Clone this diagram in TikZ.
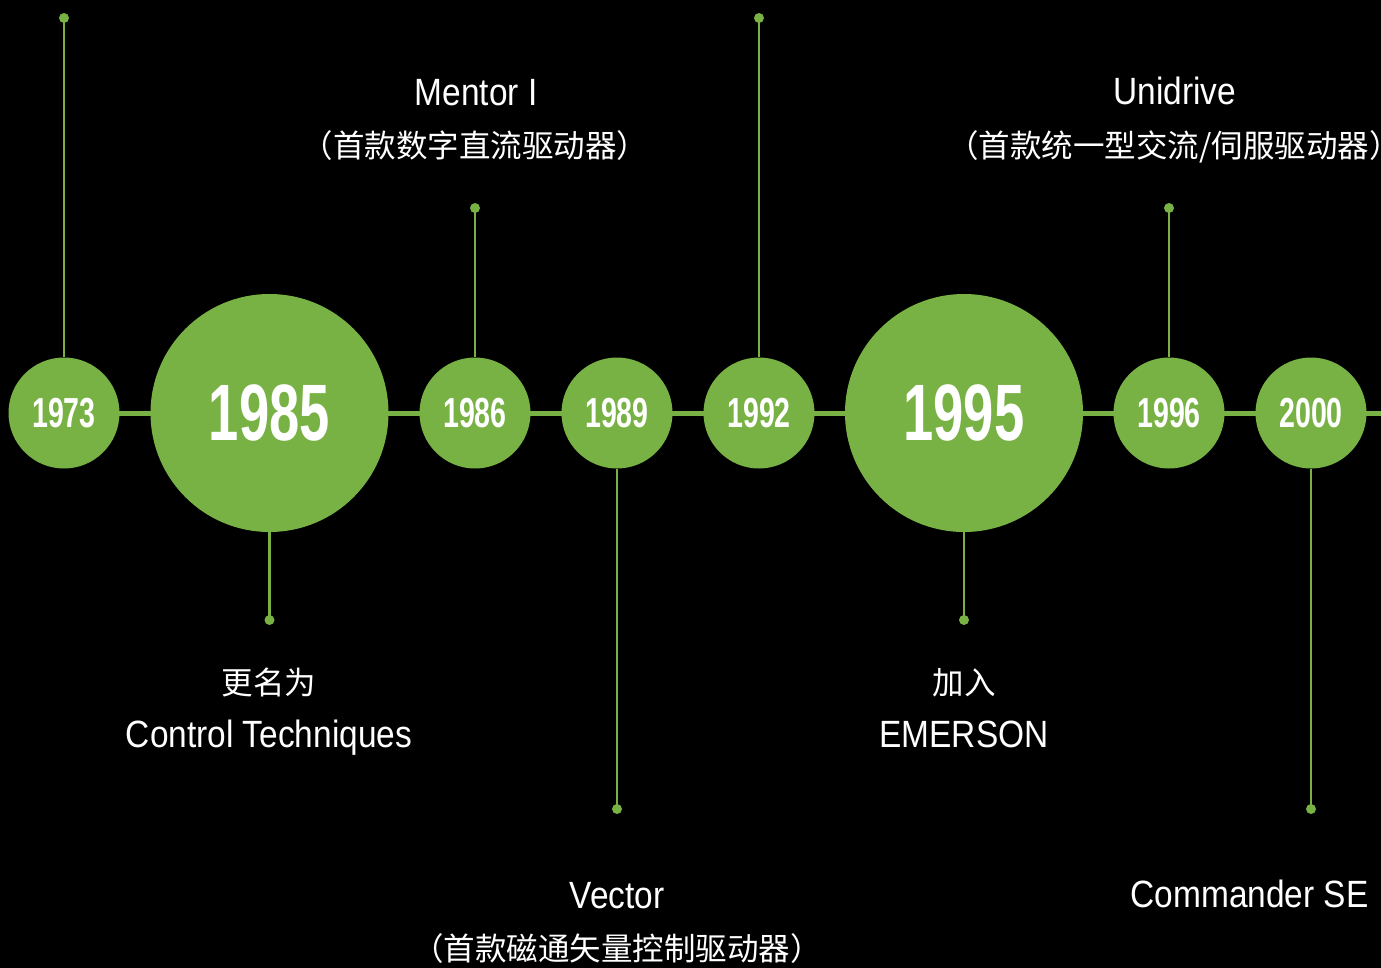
\documentclass[tikz,border=0pt]{standalone}
\usepackage{fontspec}
\setmainfont{Liberation Sans}[FakeStretch=0.88]
\newfontfamily\yearfont{Liberation Sans}[FakeStretch=0.68,BoldFont={Liberation Sans Bold}]
\newfontfamily\cjk{Noto Sans CJK SC}
\usetikzlibrary{backgrounds}
\definecolor{tlgreen}{RGB}{120,178,68}
\tikzset{
  yr/.style={circle, fill=tlgreen, inner sep=0pt, minimum size=111pt, text=white,
    font=\yearfont\bfseries\fontsize{42}{42}\selectfont},
  bigyr/.style={circle, fill=tlgreen, inner sep=0pt, minimum size=238pt, text=white,
    font=\yearfont\bfseries\fontsize{80}{80}\selectfont},
  enddot/.style={circle, fill=tlgreen, inner sep=0pt, minimum size=10pt},
  stem/.style={draw=tlgreen, line width=2.5pt},
  axis/.style={draw=tlgreen, line width=5pt},
  lbl/.style={text=white, inner sep=0pt, anchor=base, font=\fontsize{38}{44}\selectfont},
  zh/.style={text=white, inner sep=0pt, anchor=base, font=\cjk\fontsize{31.5}{36}\selectfont},
}
\begin{document}
\begin{tikzpicture}[x=1pt, y=-1pt]
\useasboundingbox (0,0) rectangle (1381,967);
\clip (0,0) rectangle (1381,967);
% year circles
\node[yr] (c1973) at (64,413) {1973};
\node[bigyr] (c1985) at (269.5,413) {1985};
\node[yr] (c1986) at (475,413) {1986};
\node[yr] (c1989) at (617,413) {1989};
\node[yr] (c1992) at (759,413) {1992};
\node[bigyr] (c1995) at (964,413) {1995};
\node[yr] (c1996) at (1169,413) {1996};
\node[yr] (c2000) at (1311,413) {2000};
% end dots
\node[enddot] (d1973) at (64,18) {};
\node[enddot] (d1985) at (269.5,620) {};
\node[enddot] (d1986) at (475,208) {};
\node[enddot] (d1989) at (617,809) {};
\node[enddot] (d1992) at (759,18) {};
\node[enddot] (d1995) at (964,620) {};
\node[enddot] (d1996) at (1169,208) {};
\node[enddot] (d2000) at (1311,809) {};
\coordinate (axisend) at (1390,413);
% labels
\node[lbl] (t1986) at (476,105) {Mentor I};
\node[zh] (z1986) at (475,157) {（首款数字直流驱动器）};
\node[lbl] (t1996) at (1175,104) {Unidrive};
\node[zh] (z1996) at (1174,157) {（首款统一型交流/伺服驱动器）};
\node[zh] (z1985) at (269,694) {更名为};
\node[lbl] (t1985) at (269,747) {Control Techniques};
\node[zh] (z1995) at (964,694) {加入};
\node[lbl] (t1995) at (964,747) {EMERSON};
\node[lbl] (t1989) at (617,908) {Vector};
\node[zh] (z1989) at (617,960) {（首款磁通矢量控制驱动器）};
\node[lbl] (t2000) at (1249.5,907) {Commander SE};
\begin{scope}[on background layer]
\fill[black] (-10,-10) rectangle (1400,980);
\draw[axis] (c1973.center) -- (axisend);
\draw[stem] (c1973.north) -- (d1973.center);
\draw[stem] (c1985.south) -- (d1985.center);
\draw[stem] (c1986.north) -- (d1986.center);
\draw[stem] (c1989.south) -- (d1989.center);
\draw[stem] (c1992.north) -- (d1992.center);
\draw[stem] (c1995.south) -- (d1995.center);
\draw[stem] (c1996.north) -- (d1996.center);
\draw[stem] (c2000.south) -- (d2000.center);
\end{scope}
\end{tikzpicture}
\end{document}
